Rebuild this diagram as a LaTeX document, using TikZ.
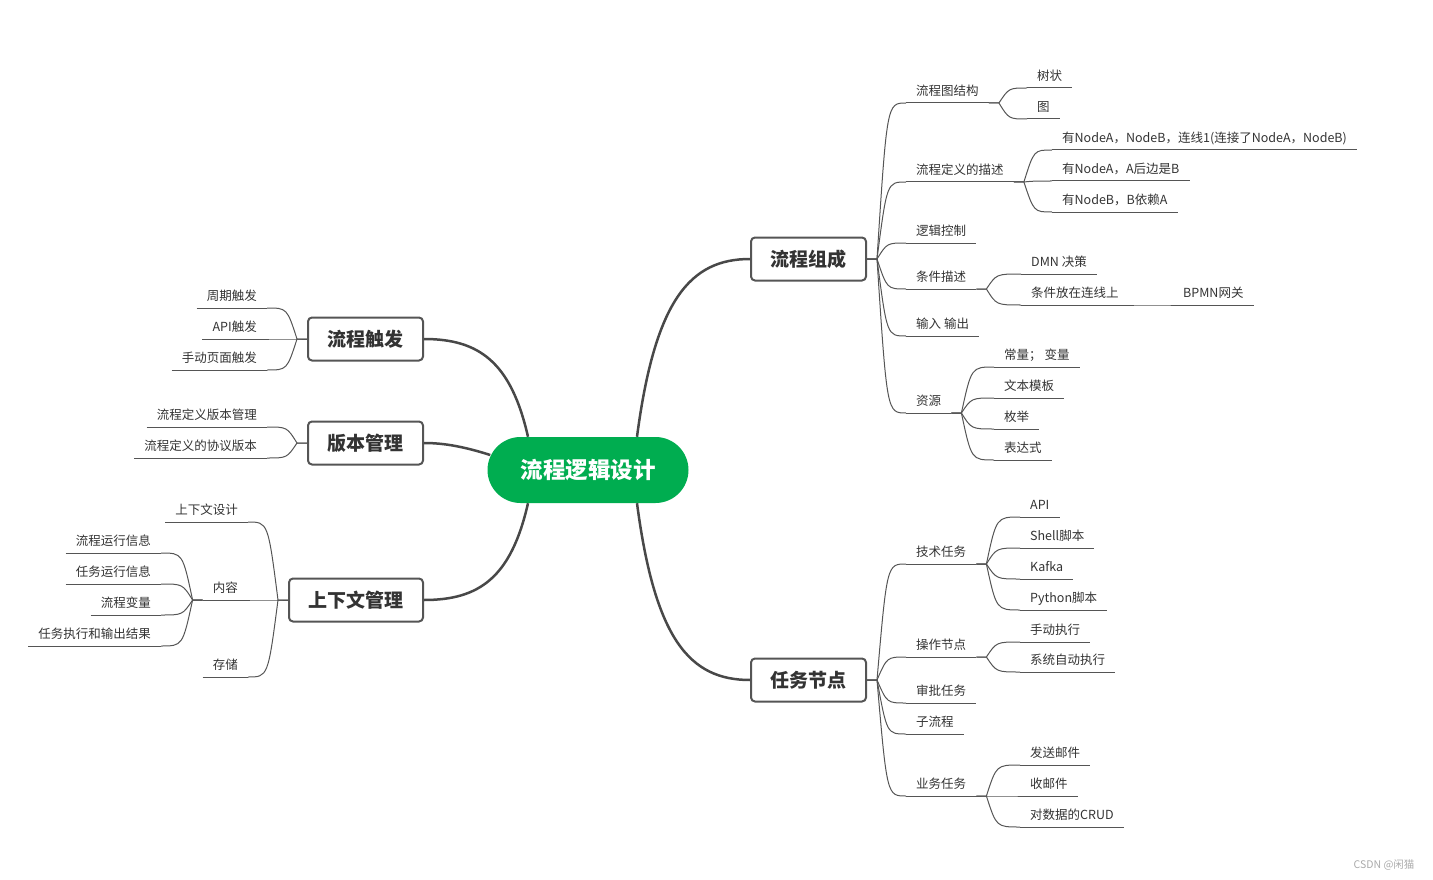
\documentclass[tikz,border=0pt]{standalone}
\usepackage{fontspec}
\setmainfont{Noto Sans CJK SC}
\usetikzlibrary{calc}
\definecolor{MindGreen}{HTML}{00AD50}
\definecolor{LineGray}{HTML}{555555}
\definecolor{DarkText}{HTML}{333333}
\definecolor{MarkGray}{HTML}{AAAAAA}

\tikzset{
  hubbox/.style={fill=MindGreen, text=white, rounded corners=33pt, minimum height=66pt, inner xsep=33pt, font=\fontsize{22.5}{22.5}\selectfont\bfseries},
  topicbox/.style={draw=LineGray, line width=2pt, rounded corners=4pt, fill=white, inner xsep=19.5pt, minimum height=43pt, font=\fontsize{19}{19}\selectfont\bfseries, text=DarkText},
  sublink/.style={draw=LineGray, line width=1pt},
  mainlink/.style={draw=LineGray!85!black, line width=2.5pt},
  subr/.style={anchor=south west, inner xsep=10pt, inner ysep=4.5pt, text height=9.5pt, text depth=2.5pt, font=\fontsize{12.5}{12.5}\selectfont, text=DarkText,
    append after command={(\tikzlastnode.south west) edge[sublink] (\tikzlastnode.south east)}},
  subl/.style={subr, anchor=south east},
  fanr/.style={sublink, to path={-- ++(10,0) .. controls ($(\tikztostart |- \tikztotarget)+(20,0)$) .. (\tikztotarget)}},
  fanl/.style={sublink, to path={-- ++(-10,0) .. controls ($(\tikztostart |- \tikztotarget)+(-20,0)$) .. (\tikztotarget)}}
}

\begin{document}
\begin{tikzpicture}[x=1pt, y=-1pt]
  \useasboundingbox (0,0) rectangle (1433,880);

  % centre and main topics
  \node[hubbox] (hub) at (588,470) {流程逻辑设计};
  \node[topicbox, anchor=west] (compose) at (750,259) {流程组成};
  \node[topicbox, anchor=west] (task) at (750,680) {任务节点};
  \node[topicbox, anchor=east] (trigger) at (424,339) {流程触发};
  \node[topicbox, anchor=east] (version) at (424,443) {版本管理};
  \node[topicbox, anchor=east] (context) at (424,600) {上下文管理};

  \draw[mainlink] ([xshift=49pt]hub.north) .. controls (655,300) and (690,259) .. (compose.west);
  \draw[mainlink] ([xshift=49pt]hub.south) .. controls (655,640) and (690,680) .. (task.west);
  \draw[mainlink] ([xshift=-60pt]hub.north) .. controls (511,362) and (479,339) .. (trigger.east);
  \draw[mainlink] ([xshift=3pt,yshift=15pt]hub.west) .. controls (465,447) and (445,443) .. (version.east);
  \draw[mainlink] ([xshift=-60pt]hub.south) .. controls (511,578) and (479,600) .. (context.east);

  % 流程组成
  \node[subr] (cp1) at (906,103) {流程图结构};
  \node[subr] (cp2) at (906,182) {流程定义的描述};
  \node[subr] (cp3) at (906,243) {逻辑控制};
  \node[subr] (cp4) at (906,289) {条件描述};
  \node[subr] (cp5) at (906,336) {输入 输出};
  \node[subr] (cp6) at (906,413) {资源};
  \node[subr] (cp1a) at (1027,88) {树状};
  \node[subr] (cp1b) at (1027,119) {图};
  \node[subr] (cp2a) at (1052,150) {有NodeA，NodeB，连线1(连接了NodeA，NodeB)};
  \node[subr] (cp2b) at (1052,181) {有NodeA，A后边是B};
  \node[subr] (cp2c) at (1052,212) {有NodeB，B依赖A};
  \node[subr] (cp4a) at (1021,274) {DMN 决策};
  \node[subr] (cp4b) at (1021,305) {条件放在连线上};
  \node[subr] (cp4c) at (1173,305) {BPMN网关};
  \node[subr] (cp6a) at (994,367) {常量； 变量};
  \node[subr] (cp6b) at (994,398) {文本模板};
  \node[subr] (cp6c) at (994,429) {枚举};
  \node[subr] (cp6d) at (994,460) {表达式};

  \draw[fanr] (compose.east) to (cp1.south west);
  \draw[fanr] (compose.east) to (cp2.south west);
  \draw[fanr] (compose.east) to (cp3.south west);
  \draw[fanr] (compose.east) to (cp4.south west);
  \draw[fanr] (compose.east) to (cp5.south west);
  \draw[fanr] (compose.east) to (cp6.south west);
  \draw[fanr] (cp1.south east) to (cp1a.south west);
  \draw[fanr] (cp1.south east) to (cp1b.south west);
  \draw[fanr] (cp2.south east) to (cp2a.south west);
  \draw[fanr] (cp2.south east) to (cp2b.south west);
  \draw[fanr] (cp2.south east) to (cp2c.south west);
  \draw[fanr] (cp4.south east) to (cp4a.south west);
  \draw[fanr] (cp4.south east) to (cp4b.south west);
  \draw[fanr] (cp4b.south east) to (cp4c.south west);
  \draw[fanr] (cp6.south east) to (cp6a.south west);
  \draw[fanr] (cp6.south east) to (cp6b.south west);
  \draw[fanr] (cp6.south east) to (cp6c.south west);
  \draw[fanr] (cp6.south east) to (cp6d.south west);

  % 任务节点
  \node[subr] (tk1) at (906,564) {技术任务};
  \node[subr] (tk2) at (906,657) {操作节点};
  \node[subr] (tk3) at (906,703) {审批任务};
  \node[subr] (tk4) at (906,734) {子流程};
  \node[subr] (tk5) at (906,796) {业务任务};
  \node[subr] (tk1a) at (1020,517) {API};
  \node[subr] (tk1b) at (1020,548) {Shell脚本};
  \node[subr] (tk1c) at (1020,579) {Kafka};
  \node[subr] (tk1d) at (1020,610) {Python脚本};
  \node[subr] (tk2a) at (1020,642) {手动执行};
  \node[subr] (tk2b) at (1020,672) {系统自动执行};
  \node[subr] (tk5a) at (1020,765) {发送邮件};
  \node[subr] (tk5b) at (1020,796) {收邮件};
  \node[subr] (tk5c) at (1020,827) {对数据的CRUD};

  \draw[fanr] (task.east) to (tk1.south west);
  \draw[fanr] (task.east) to (tk2.south west);
  \draw[fanr] (task.east) to (tk3.south west);
  \draw[fanr] (task.east) to (tk4.south west);
  \draw[fanr] (task.east) to (tk5.south west);
  \draw[fanr] (tk1.south east) to (tk1a.south west);
  \draw[fanr] (tk1.south east) to (tk1b.south west);
  \draw[fanr] (tk1.south east) to (tk1c.south west);
  \draw[fanr] (tk1.south east) to (tk1d.south west);
  \draw[fanr] (tk2.south east) to (tk2a.south west);
  \draw[fanr] (tk2.south east) to (tk2b.south west);
  \draw[fanr] (tk5.south east) to (tk5a.south west);
  \draw[fanr] (tk5.south east) to (tk5b.south west);
  \draw[fanr] (tk5.south east) to (tk5c.south west);

  % 流程触发, 版本管理
  \node[subl] (tg1) at (267,308) {周期触发};
  \node[subl] (tg2) at (267,339) {API触发};
  \node[subl] (tg3) at (267,370) {手动页面触发};
  \node[subl] (vs1) at (267,427) {流程定义版本管理};
  \node[subl] (vs2) at (267,458) {流程定义的协议版本};

  \draw[fanl] (trigger.west) to (tg1.south east);
  \draw[fanl] (trigger.west) to (tg2.south east);
  \draw[fanl] (trigger.west) to (tg3.south east);
  \draw[fanl] (version.west) to (vs1.south east);
  \draw[fanl] (version.west) to (vs2.south east);

  % 上下文管理
  \node[subl] (cx1) at (248,522) {上下文设计};
  \node[subl] (cx2) at (248,600) {内容};
  \node[subl] (cx3) at (248,677) {存储};
  \node[subl] (cx2a) at (161,553) {流程运行信息};
  \node[subl] (cx2b) at (161,584) {任务运行信息};
  \node[subl] (cx2c) at (161,615) {流程变量};
  \node[subl] (cx2d) at (161,646) {任务执行和输出结果};

  \draw[fanl] (context.west) to (cx1.south east);
  \draw[fanl] (context.west) to (cx2.south east);
  \draw[fanl] (context.west) to (cx3.south east);
  \draw[fanl] (cx2.south west) to (cx2a.south east);
  \draw[fanl] (cx2.south west) to (cx2b.south east);
  \draw[fanl] (cx2.south west) to (cx2c.south east);
  \draw[fanl] (cx2.south west) to (cx2d.south east);

  \node[anchor=east, font=\fontsize{10.5}{10.5}\selectfont, text=MarkGray] (mark) at (1418,865) {CSDN @闲猫};
\end{tikzpicture}
\end{document}
